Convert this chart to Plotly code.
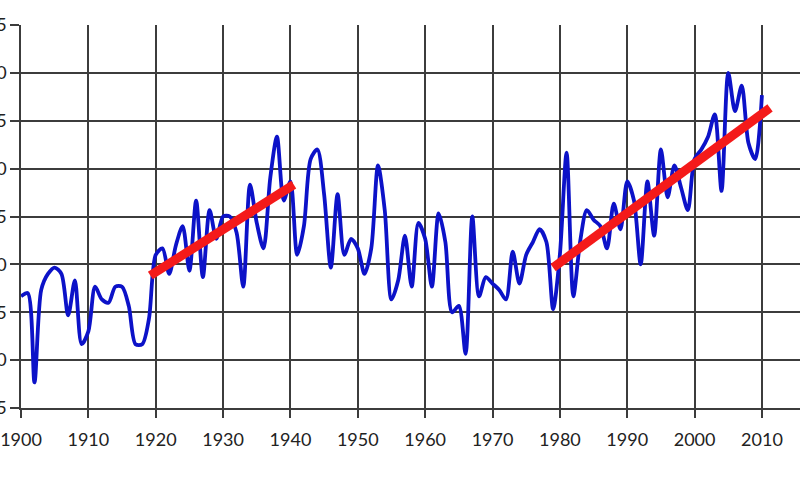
import plotly.graph_objects as go

# annual temperature anomaly
years = list(range(1900, 2011))
anomaly = [
    -0.10, -0.09, -0.37, -0.08, -0.03, -0.01, -0.03, -0.16, -0.05, -0.25,  # 1900s
    -0.21, -0.07, -0.11, -0.12, -0.07, -0.07, -0.13, -0.25, -0.25, -0.17,  # 1910s
    0.03, 0.05, -0.03, 0.06, 0.12, -0.02, 0.20, -0.04, 0.17, 0.08,        # 1920s
    0.15, 0.15, 0.10, -0.07, 0.25, 0.13, 0.05, 0.27, 0.40, 0.20,          # 1930s
    0.26, 0.03, 0.12, 0.33, 0.36, 0.22, -0.01, 0.22, 0.03, 0.08,          # 1940s
    0.05, -0.03, 0.05, 0.31, 0.17, -0.11, -0.05, 0.09, -0.07, 0.13,       # 1950s
    0.08, -0.07, 0.16, 0.07, -0.15, -0.13, -0.28, 0.15, -0.10, -0.04,     # 1960s
    -0.06, -0.08, -0.11, 0.04, -0.06, 0.03, 0.07, 0.11, 0.07, -0.14,      # 1970s
    0.03, 0.35, -0.10, 0.07, 0.17, 0.14, 0.12, 0.05, 0.19, 0.11,          # 1980s
    0.26, 0.20, 0.00, 0.26, 0.09, 0.36, 0.21, 0.31, 0.24, 0.17,           # 1990s
    0.33, 0.36, 0.40, 0.47, 0.23, 0.60, 0.48, 0.56, 0.38, 0.33,           # 2000s
    0.53,
]

# linear trends for the two warming periods
trend1_years = [1919.2, 1940.5]
trend1_vals = [-0.035, 0.25]
trend2_years = [1979.0, 2011.2]
trend2_vals = [-0.01, 0.49]

x_ticks = list(range(1900, 2011, 10))
y_ticks = [-0.45, -0.30, -0.15, 0.00, 0.15, 0.30, 0.45, 0.60, 0.75]

grid_col = "#3c3c3c"

fig = go.Figure()
fig.add_trace(go.Scatter(
    x=years, y=anomaly, mode="lines",
    line=dict(color="#0c12c8", width=3.8, shape="spline", smoothing=0.8),
    showlegend=False,
))
for tx, ty in [(trend1_years, trend1_vals), (trend2_years, trend2_vals)]:
    fig.add_trace(go.Scatter(
        x=tx, y=ty, mode="lines",
        line=dict(color="#f41a1a", width=9),
        showlegend=False,
    ))

# the reference is a crop: y tick labels run off the left edge
fig.update_xaxes(
    range=[1900, 2015.65], tickvals=x_ticks,
    showgrid=True, gridcolor=grid_col, gridwidth=1.5,
    ticks="outside", ticklen=8, tickcolor=grid_col, tickwidth=1.5,
    ticklabelstandoff=7, ticklabeloverflow="allow",
    showline=True, linecolor=grid_col, linewidth=1.5,
    zeroline=False, automargin=False,
    tickfont=dict(family="Lato", size=18, color="#222222"),
)
fig.update_yaxes(
    range=[-0.45, 0.75], tickvals=y_ticks, tickformat=".2f",
    showgrid=True, gridcolor=grid_col, gridwidth=1.5,
    ticks="outside", ticklen=9, tickcolor=grid_col, tickwidth=1.5,
    ticklabeloverflow="allow",
    showline=True, linecolor=grid_col, linewidth=1.5,
    zeroline=False, automargin=False,
    tickfont=dict(family="Lato", size=18, color="#222222"),
)
fig.update_layout(
    width=800, height=477,
    margin=dict(l=21, r=0, t=25, b=69),
    plot_bgcolor="white", paper_bgcolor="white",
)
fig.write_html(
    "out.html",
    config={"displayModeBar": False},
    post_script="document.body.style.margin='0';",
)
